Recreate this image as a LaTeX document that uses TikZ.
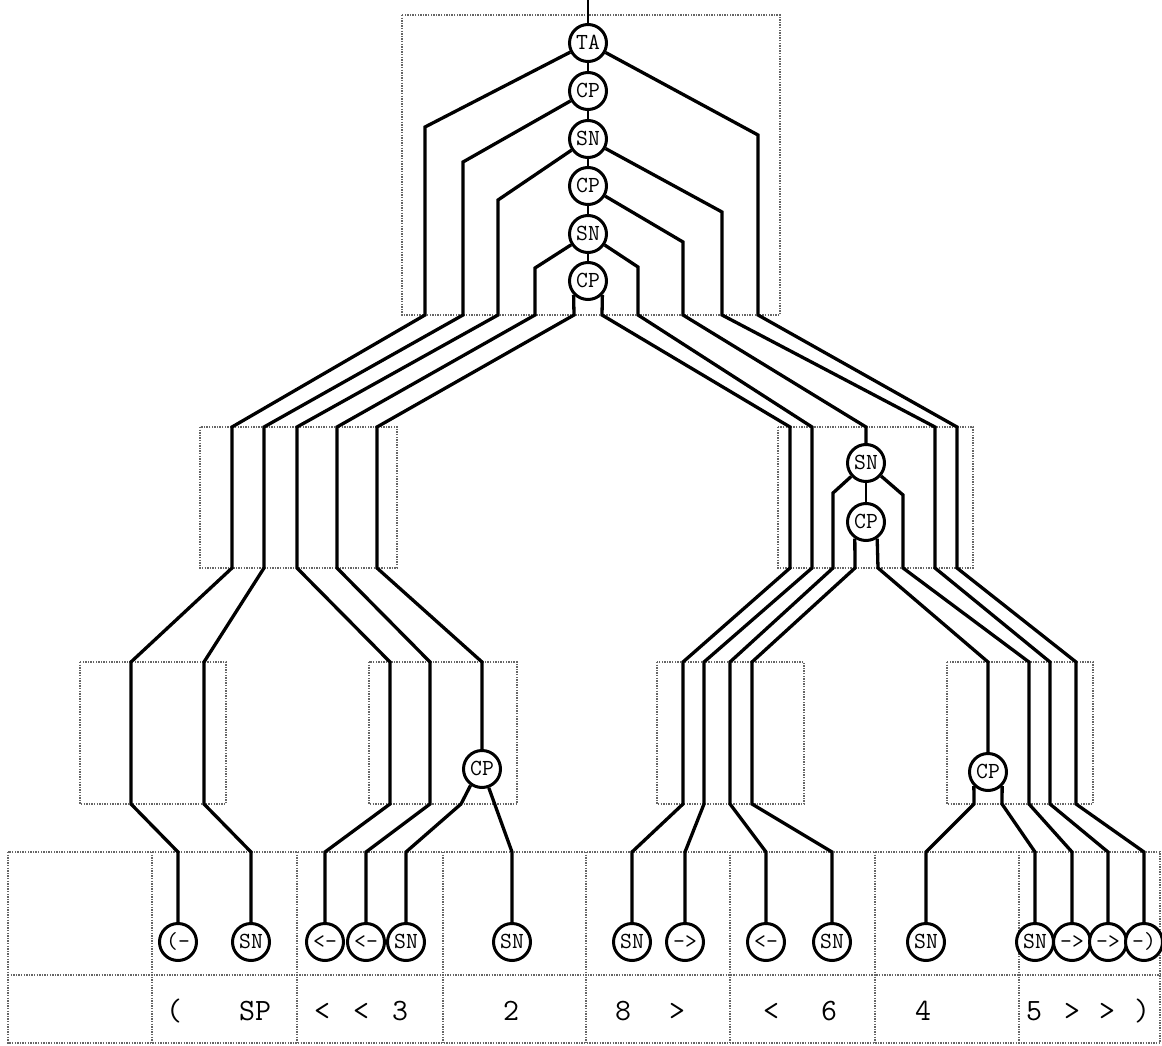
\documentclass[tikz,border=0pt]{standalone}
\usepackage{fontspec}
\begin{document}
\begin{tikzpicture}[x=1pt,y=-1pt,
  wire/.style={line width=3.3pt},
  linkw/.style={line width=2.3pt},
  frame/.style={draw=black!60, line width=1.6pt, dash pattern=on 1.4pt off 1.2pt},
  gate/.style={circle, draw, line width=3pt, minimum size=37pt, inner sep=0pt, fill=white,
    text height=13pt, text depth=0pt, font=\fontsize{23}{23}\selectfont\ttfamily},
  tok/.style={anchor=base, inner sep=0pt, font=\fontsize{31}{31}\selectfont\ttfamily}]
\useasboundingbox (0,0) rectangle (1162,1046);

% dotted frames
\draw[frame] (402,15) rectangle (780,315);
\draw[frame] (200,427) rectangle (397,568);
\draw[frame] (778,427) rectangle (973,568);
\draw[frame] (80,662) rectangle (226,804);
\draw[frame] (369,662) rectangle (517,804);
\draw[frame] (657,662) rectangle (804,804);
\draw[frame] (947,662) rectangle (1093,804);
\draw[frame] (8,852) rectangle (1160,1043);
\draw[frame] (8,975) -- (1160,975);
\foreach \cx in {152,297,443,586,730,875,1019}{\draw[frame] (\cx,852) -- (\cx,1043);}

% internal gates
\node[gate] (TA)  at (588,43)  {TA};
\node[gate] (CP1) at (588,91)  {CP};
\node[gate] (SN1) at (588,139) {SN};
\node[gate] (CP2) at (588,186) {CP};
\node[gate] (SN2) at (588,234) {SN};
\node[gate] (CP3) at (588,281) {CP};
\node[gate] (SN5) at (866,463) {SN};
\node[gate] (CP5) at (866,522) {CP};
\node[gate] (CP4) at (482,769) {CP};
\node[gate] (CP6) at (988,772) {CP};

% leaves
\node[gate] (l1)  at (178,942)  {(-};
\node[gate] (l2)  at (251,942)  {SN};
\node[gate] (l3)  at (325,942)  {<-};
\node[gate] (l4)  at (366,942)  {<-};
\node[gate] (l5)  at (406,942)  {SN};
\node[gate] (l6)  at (512,942)  {SN};
\node[gate] (l7)  at (632,942)  {SN};
\node[gate] (l8)  at (685,942)  {->};
\node[gate] (l9)  at (766,942)  {<-};
\node[gate] (l10) at (832,942)  {SN};
\node[gate] (l11) at (926,942)  {SN};
\node[gate] (l12) at (1035,942) {SN};
\node[gate] (l13) at (1072,942) {->};
\node[gate] (l14) at (1108,942) {->};
\node[gate] (l15) at (1144,942) {-)};

% bottom tokens
\node[tok] (t1)  at (174,1020)  {(};
\node[tok] (t2)  at (255,1020)  {SP};
\node[tok] (t3)  at (322,1020)  {<};
\node[tok] (t4)  at (361,1020)  {<};
\node[tok] (t5)  at (400,1020)  {3};
\node[tok] (t6)  at (511,1020)  {2};
\node[tok] (t7)  at (623,1020)  {8};
\node[tok] (t8)  at (677,1020)  {>};
\node[tok] (t9)  at (771,1020)  {<};
\node[tok] (t10) at (829,1020)  {6};
\node[tok] (t11) at (923,1020)  {4};
\node[tok] (t12) at (1034,1020) {5};
\node[tok] (t13) at (1072,1020) {>};
\node[tok] (t14) at (1107,1020) {>};
\node[tok] (t15) at (1142,1020) {)};

% links in the columns
\coordinate (top) at (588,0);
\draw[linkw] (top) -- (TA);
\draw[linkw] (TA) -- (CP1);
\draw[linkw] (CP1) -- (SN1);
\draw[linkw] (SN1) -- (CP2);
\draw[linkw] (CP2) -- (SN2);
\draw[linkw] (SN2) -- (CP3);
\draw[linkw] (SN5) -- (CP5);

% wires
\draw[wire] (TA) -- (425,127) -- (425,315) -- (232,427) -- (232,568) -- (131,662) -- (131,804) -- (178,852) -- (l1);
\draw[wire] (CP1) -- (463,162) -- (463,315) -- (264,427) -- (264,568) -- (204,662) -- (204,804) -- (251,852) -- (l2);
\draw[wire] (SN1) -- (498,200) -- (498,315) -- (297,427) -- (297,568) -- (390,662) -- (390,804) -- (325,852) -- (l3);
\draw[wire] (SN2) -- (535,268) -- (535,315) -- (337,427) -- (337,568) -- (430,662) -- (430,804) -- (366,852) -- (l4);
\draw[wire] (CP3.224) -- (574,315) -- (377,427) -- (377,568) -- (482,662) -- (CP4);
\draw[wire] (CP3.316) -- (602,315) -- (790,427) -- (790,568) -- (683,662) -- (683,804) -- (632,852) -- (l7);
\draw[wire] (SN2) -- (638,267) -- (638,315) -- (812,427) -- (812,568) -- (704,662) -- (704,804) -- (685,852) -- (l8);
\draw[wire] (CP2) -- (683,242) -- (683,315) -- (866,427) -- (SN5);
\draw[wire] (SN1) -- (722,212) -- (722,315) -- (935,427) -- (935,568) -- (1050,662) -- (1050,804) -- (1108,852) -- (l14);
\draw[wire] (TA) -- (758,135) -- (758,315) -- (957,427) -- (957,568) -- (1076,662) -- (1076,804) -- (1144,852) -- (l15);
\draw[wire] (SN5) -- (833,493) -- (833,568) -- (730,662) -- (730,804) -- (766,852) -- (l9);
\draw[wire] (SN5) -- (903,495) -- (903,568) -- (1029,662) -- (1029,804) -- (1072,852) -- (l13);
\draw[wire] (CP5.236) -- (855,568) -- (752,662) -- (752,804) -- (832,852) -- (l10);
\draw[wire] (CP5.304) -- (878,568) -- (988,662) -- (CP6);
\draw[wire] (CP4.235) -- (461,804) -- (406,852) -- (l5);
\draw[wire] (CP4) -- (512,852) -- (l6);
\draw[wire] (CP6.225) -- (974,804) -- (926,852) -- (l11);
\draw[wire] (CP6.315) -- (1002,804) -- (1035,852) -- (l12);
\end{tikzpicture}
\end{document}
